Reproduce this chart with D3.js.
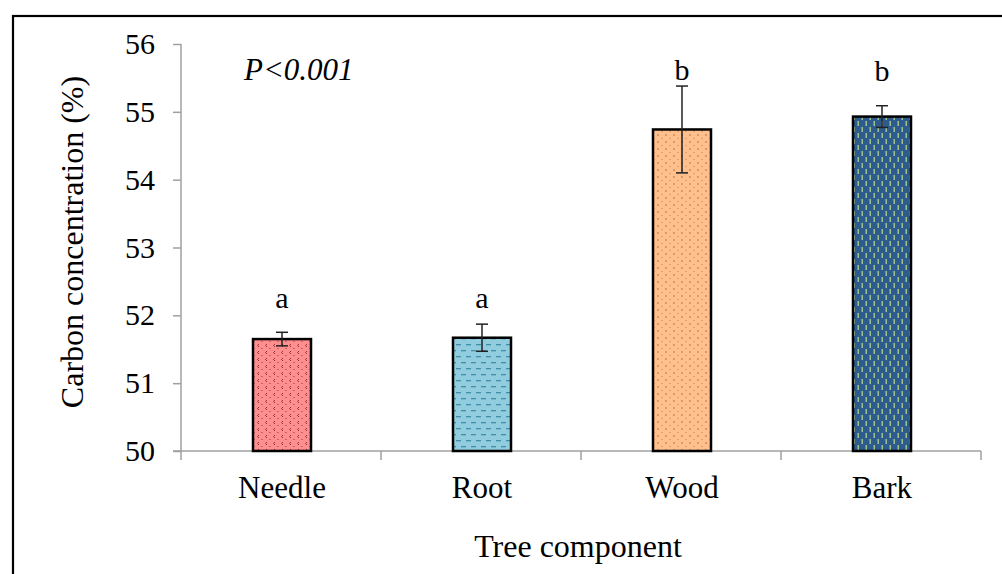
<!DOCTYPE html>
<html><head><meta charset="utf-8">
<script src="https://cdn.jsdelivr.net/npm/d3@7/dist/d3.min.js"></script>
<style>body{margin:0;background:#fff}svg{display:block}</style>
</head><body>
<svg id="c" width="1002" height="574"></svg>
<script>
const categories = ["Needle", "Root", "Wood", "Bark"];
const values = [51.65, 51.67, 54.74, 54.93];
const errors = [0.10, 0.20, 0.64, 0.16];
const letters = ["a", "a", "b", "b"];
const letterLevels = [52.11, 52.11, 55.47, 55.45];
const yTicks = [50, 51, 52, 53, 54, 55, 56];

const svg = d3.select("#c");
const font = "'Liberation Serif','Times New Roman',serif";

// outer frame
svg.append("rect").attr("x", 13).attr("y", 16).attr("width", 1010).attr("height", 600)
  .attr("fill", "none").attr("stroke", "#000").attr("stroke-width", 2.2);

const defs = svg.append("defs");
// Needle pattern
let p = defs.append("pattern").attr("id", "pN").attr("patternUnits", "userSpaceOnUse")
  .attr("width", 8).attr("height", 7);
p.append("rect").attr("width", 8).attr("height", 7).attr("fill", "#FF8F8F");
p.append("path").attr("d", "M3,1 L1.5,2.5 L3,4").attr("stroke", "#8a2a2a").attr("stroke-width", 0.9).attr("fill", "none");
p.append("circle").attr("cx", 6).attr("cy", 5.5).attr("r", 0.6).attr("fill", "#8a2a2a");
// Root pattern
p = defs.append("pattern").attr("id", "pR").attr("patternUnits", "userSpaceOnUse")
  .attr("width", 10).attr("height", 12);
p.append("rect").attr("width", 10).attr("height", 12).attr("fill", "#92CDDF");
p.append("rect").attr("x", 1).attr("y", 2).attr("width", 5).attr("height", 1.3).attr("fill", "#3f8fa8");
p.append("rect").attr("x", 6).attr("y", 8).attr("width", 5).attr("height", 1.3).attr("fill", "#3f8fa8");
p.append("rect").attr("x", -4).attr("y", 8).attr("width", 5).attr("height", 1.3).attr("fill", "#3f8fa8");
// Wood pattern
p = defs.append("pattern").attr("id", "pW").attr("patternUnits", "userSpaceOnUse")
  .attr("width", 8).attr("height", 7);
p.append("rect").attr("width", 8).attr("height", 7).attr("fill", "#FFC08E");
p.append("circle").attr("cx", 2).attr("cy", 2).attr("r", 0.8).attr("fill", "#b0663a");
p.append("circle").attr("cx", 6).attr("cy", 5.5).attr("r", 0.6).attr("fill", "#c27a4a");
// Bark pattern
p = defs.append("pattern").attr("id", "pB").attr("patternUnits", "userSpaceOnUse")
  .attr("width", 8).attr("height", 12);
p.append("rect").attr("width", 8).attr("height", 12).attr("fill", "#2E5B8E");
p.append("rect").attr("x", 1.5).attr("y", 1).attr("width", 1.5).attr("height", 5).attr("fill", "#9CC08F");
p.append("rect").attr("x", 5.5).attr("y", 7).attr("width", 1.5).attr("height", 5).attr("fill", "#9CC08F");
const fills = ["url(#pN)", "url(#pR)", "url(#pW)", "url(#pB)"];

const x = d3.scaleBand().domain(categories).range([181, 981]).paddingInner(0).paddingOuter(0);
const y = d3.scaleLinear().domain([50, 56]).range([451, 44]);
const barW = 58;

// y axis
const ya = svg.append("g").attr("transform", "translate(181,0)")
  .call(d3.axisLeft(y).tickValues(yTicks).tickSize(8).tickPadding(18).tickFormat(d3.format("d")));
ya.select(".domain").attr("stroke", "#a0a0a0").attr("stroke-width", 1.5).attr("d", "M0,44V451");
ya.selectAll(".tick line").attr("stroke", "#a0a0a0").attr("stroke-width", 1.5);
ya.selectAll(".tick text").attr("font-family", font).attr("font-size", 30).attr("fill", "#000");

// x axis
const xa = svg.append("g").attr("transform", "translate(0,451)");
xa.append("line").attr("x1", 173).attr("x2", x.range()[1]).attr("stroke", "#a0a0a0").attr("stroke-width", 1.5);
const bounds = categories.map(c => x(c)).concat([x.range()[1]]);
xa.selectAll("line.t").data(bounds).join("line").attr("class", "t")
  .attr("x1", d => d).attr("x2", d => d).attr("y1", 0).attr("y2", 9)
  .attr("stroke", "#a0a0a0").attr("stroke-width", 1.5);
xa.selectAll("text").data(categories).join("text")
  .attr("x", d => x(d) + x.bandwidth() / 2 + 1).attr("y", 47)
  .attr("text-anchor", "middle").attr("font-family", font).attr("font-size", 31).text(d => d);

// bars
const data = categories.map((c, i) => ({c, v: values[i], e: errors[i], l: letters[i], ly: letterLevels[i], f: fills[i]}));
const cx = d => x(d.c) + x.bandwidth() / 2 + 1;
svg.selectAll("rect.bar").data(data).join("rect").attr("class", "bar")
  .attr("x", d => cx(d) - barW / 2).attr("width", barW)
  .attr("y", d => y(d.v)).attr("height", d => y(50) - y(d.v))
  .attr("fill", d => d.f).attr("stroke", "#000").attr("stroke-width", 2.5);

// error bars
const eg = svg.append("g").attr("stroke", "#222").attr("stroke-width", 1.5);
data.forEach(d => {
  eg.append("line").attr("x1", cx(d)).attr("x2", cx(d)).attr("y1", y(d.v + d.e)).attr("y2", y(d.v - d.e));
  eg.append("line").attr("x1", cx(d) - 6).attr("x2", cx(d) + 6).attr("y1", y(d.v + d.e)).attr("y2", y(d.v + d.e));
  eg.append("line").attr("x1", cx(d) - 6).attr("x2", cx(d) + 6).attr("y1", y(d.v - d.e)).attr("y2", y(d.v - d.e));
});

// letters
svg.selectAll("text.let").data(data).join("text").attr("class", "let")
  .attr("x", d => cx(d)).attr("y", d => y(d.ly))
  .attr("text-anchor", "middle").attr("font-family", font).attr("font-size", 30).text(d => d.l);

// P value
svg.append("text").attr("x", 244).attr("y", 80).attr("font-family", font).attr("font-style", "italic")
  .attr("font-size", 31).text("P<0.001");

// axis titles
svg.append("text").attr("x", 578).attr("y", 557).attr("text-anchor", "middle")
  .attr("font-family", font).attr("font-size", 32).text("Tree component");
svg.append("text").attr("transform", "translate(83,242) rotate(-90)").attr("text-anchor", "middle")
  .attr("font-family", font).attr("font-size", 32).text("Carbon concentration (%)");
</script>
</body></html>
